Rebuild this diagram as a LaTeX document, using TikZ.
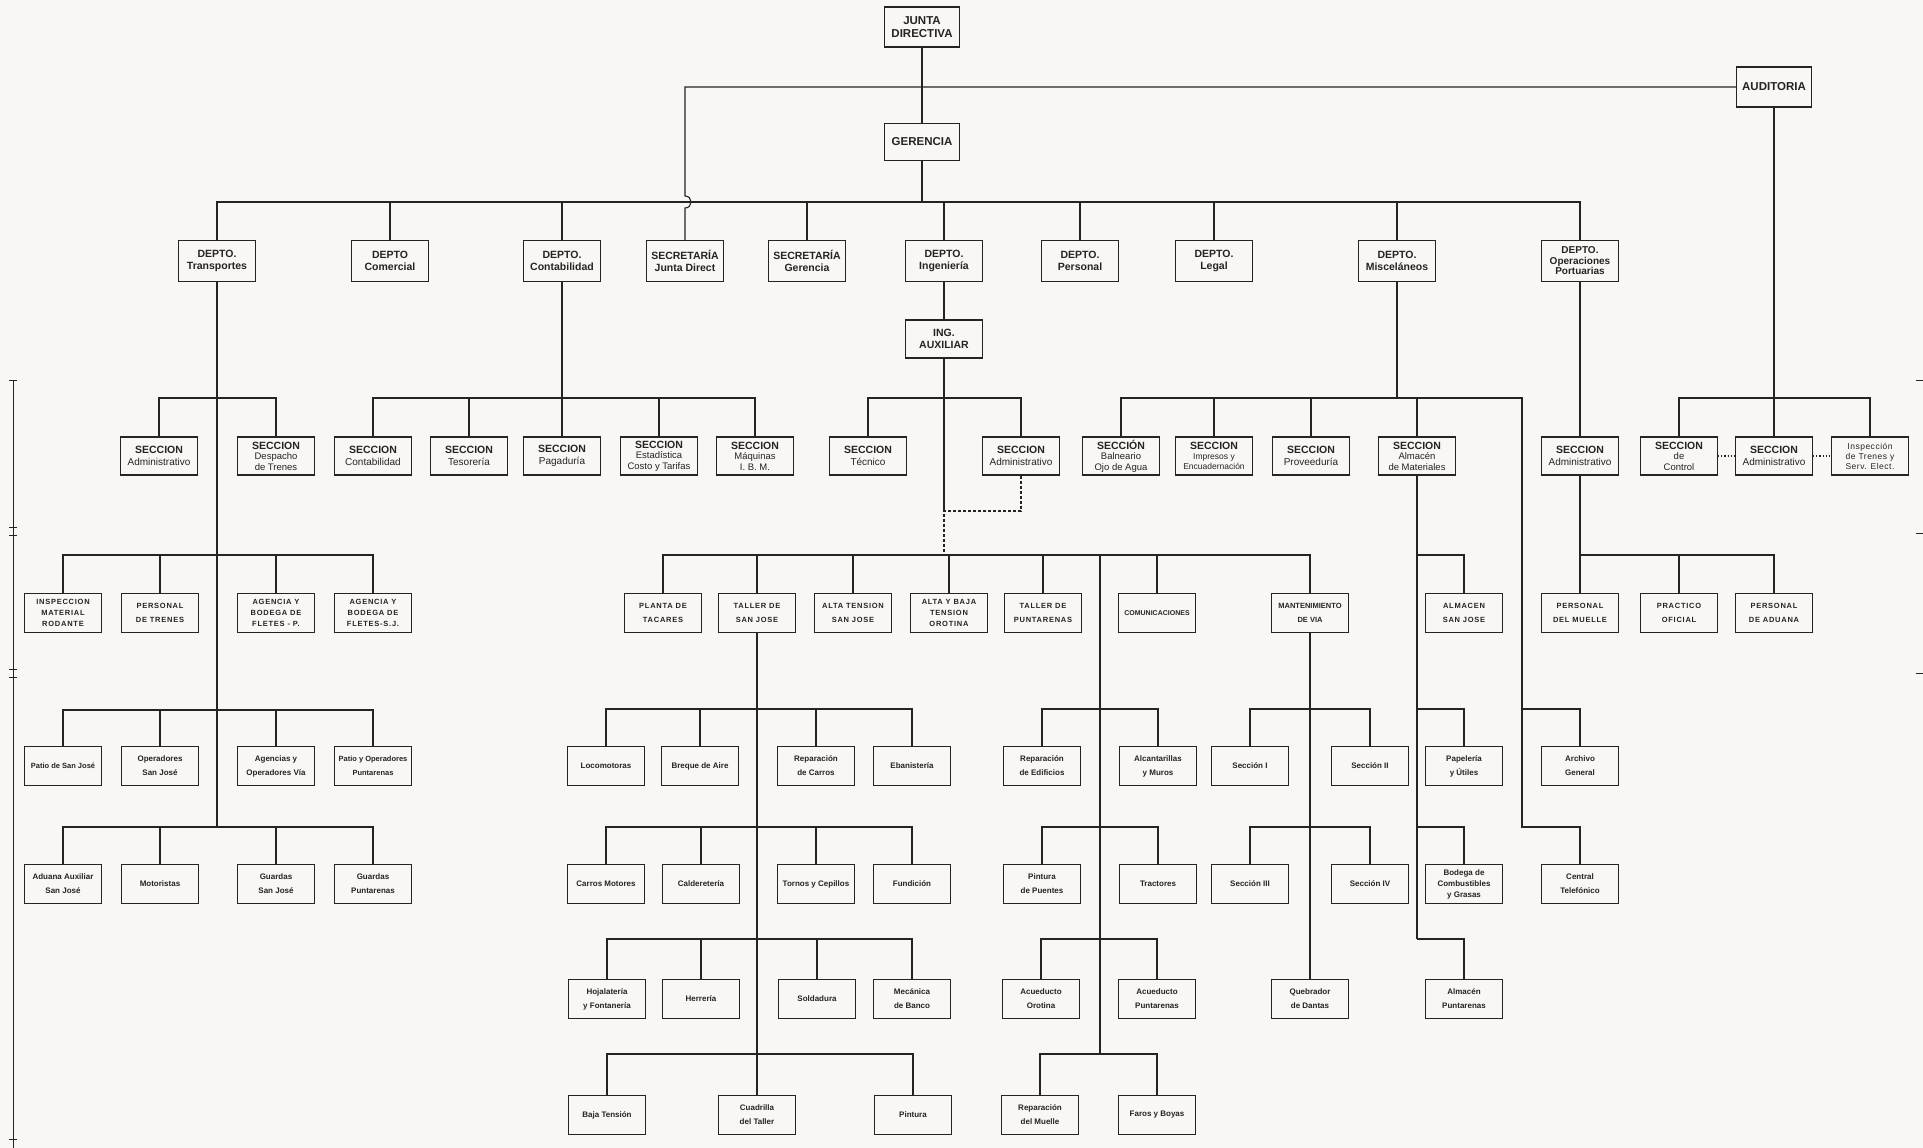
\documentclass[tikz,border=0pt]{standalone}
\usepackage{fontspec}
\setmainfont{Liberation Sans}
\usetikzlibrary{positioning, calc}
\definecolor{paper}{RGB}{249, 247, 243}
\definecolor{ink}{RGB}{38, 36, 34}
\newcommand{\hdr}[1]{{\bfseries\fontsize{10.5}{12}\selectfont #1}}

\tikzset{
  link/.style={draw=ink, line width=1.1pt},
  box/.style={draw=ink, line width=1.4pt, fill=paper, text=ink, minimum width=77pt,
    minimum height=39pt, inner sep=1pt, align=center},
  topbox/.style={box, minimum width=75pt, font=\bfseries\fontsize{11.5}{13}\selectfont},
  deptbox/.style={box, minimum height=41pt, font=\bfseries\fontsize{10.5}{12.5}\selectfont},
  secbox/.style={box, minimum height=38pt, font=\fontsize{10}{12.5}\selectfont},
  secthree/.style={secbox, font=\fontsize{9.5}{10.5}\selectfont},
  capbox/.style={box, font=\bfseries\fontsize{7.5}{14}\selectfont\addfontfeature{LetterSpace=10}},
  capthree/.style={box, font=\bfseries\fontsize{7.5}{11}\selectfont\addfontfeature{LetterSpace=10}},
  lowbox/.style={box, font=\bfseries\fontsize{8}{14}\selectfont},
  lowthree/.style={box, font=\bfseries\fontsize{8}{11}\selectfont},
}

\begin{document}
\begin{tikzpicture}[x=1pt, y=-1pt]
  \useasboundingbox (0,0) rectangle (1923,1148);
  \fill[paper] (0,0) rectangle (1923,1148);

  % edge marks of the sheet
  \draw[ink, line width=1pt] (13,380) -- (13,1148);
  \foreach \y in {380,527,535,669,677,1139} \draw[ink, line width=0.8pt] (9,\y) -- (17,\y);
  \foreach \y in {380,533,673} \draw[ink, line width=0.8pt] (1916,\y) -- (1923,\y);

  % top
  \node[topbox, minimum height=40pt] (junta) at (922,27) {JUNTA\\DIRECTIVA};
  \node[topbox, minimum height=37pt] (gerencia) at (922,142) {GERENCIA};
  \node[topbox, minimum height=40pt] (auditoria) at (1774,87) {AUDITORIA};

  % departments
  \node[deptbox] (dtrans) at (217,261) {DEPTO.\\Transportes};
  \node[deptbox] (dcom) at (390,261) {DEPTO\\Comercial};
  \node[deptbox] (dcont) at (562,261) {DEPTO.\\Contabilidad};
  \node[deptbox] (secjd) at (685,261) {SECRETARÍA\\Junta Direct};
  \node[deptbox] (secger) at (807,261) {SECRETARÍA\\Gerencia};
  \node[deptbox] (ding) at (944,261) {DEPTO.\\Ingeniería};
  \node[deptbox] (dpers) at (1080,261) {DEPTO.\\Personal};
  \node[deptbox] (dlegal) at (1214,261) {DEPTO.\\Legal};
  \node[deptbox] (dmisc) at (1397,261) {DEPTO.\\Misceláneos};
  \node[deptbox, font=\bfseries\fontsize{10}{10.5}\selectfont] (doper) at (1580,261) {DEPTO.\\Operaciones\\Portuarias};
  \node[deptbox, minimum height=38pt] (ingaux) at (944,339) {ING.\\AUXILIAR};

  % secciones
  \node[secbox] (tadm) at (159,456) {\hdr{SECCION}\\Administrativo};
  \node[secthree] (tdesp) at (276,456) {\hdr{SECCION}\\Despacho\\de Trenes};
  \node[secbox] (ccont) at (373,456) {\hdr{SECCION}\\Contabilidad};
  \node[secbox] (ctes) at (469,456) {\hdr{SECCION}\\Tesorería};
  \node[secbox] (cpag) at (562,456) {\hdr{SECCION}\\Pagaduría};
  \node[secthree] (cest) at (659,456) {\hdr{SECCION}\\Estadística\\Costo y Tarifas};
  \node[secthree] (cmaq) at (755,456) {\hdr{SECCION}\\Máquinas\\I. B. M.};
  \node[secbox] (itec) at (868,456) {\hdr{SECCION}\\Técnico};
  \node[secbox] (iadm) at (1021,456) {\hdr{SECCION}\\Administrativo};
  \node[secthree] (mbal) at (1121,456) {\hdr{SECCIÓN}\\Balneario\\Ojo de Agua};
  \node[secthree, font=\fontsize{8.5}{10}\selectfont] (mimp) at (1214,456) {\hdr{SECCION}\\Impresos y\\Encuadernación};
  \node[secbox] (mprov) at (1311,456) {\hdr{SECCION}\\Proveeduría};
  \node[secthree] (malm) at (1417,456) {\hdr{SECCION}\\Almacén\\de Materiales};
  \node[secbox] (oadm) at (1580,456) {\hdr{SECCION}\\Administrativo};
  \node[secthree] (actrl) at (1679,456) {\hdr{SECCION}\\de\\Control};
  \node[secbox] (aadm) at (1774,456) {\hdr{SECCION}\\Administrativo};
  \node[secthree, font=\fontsize{8.5}{10}\selectfont\addfontfeature{LetterSpace=6}] (ainsp) at (1870,456) {Inspección\\de Trenes y\\Serv. Elect.};

  % fourth row
  \node[capthree] (tins) at (63,613) {INSPECCION\\MATERIAL\\RODANTE};
  \node[capbox] (tper) at (160,613) {PERSONAL\\DE TRENES};
  \node[capthree] (tagp) at (276,613) {AGENCIA Y\\BODEGA DE\\FLETES - P.};
  \node[capthree] (tags) at (373,613) {AGENCIA Y\\BODEGA DE\\FLETES-S.J.};
  \node[capbox] (planta) at (663,613) {PLANTA DE\\TACARES};
  \node[capbox] (tsj) at (757,613) {TALLER DE\\SAN JOSE};
  \node[capbox] (atsj) at (853,613) {ALTA TENSION\\SAN JOSE};
  \node[capthree] (abto) at (949,613) {ALTA Y BAJA\\TENSION\\OROTINA};
  \node[capbox] (tpunt) at (1043,613) {TALLER DE\\PUNTARENAS};
  \node[capbox, font=\bfseries\fontsize{7}{14}\selectfont] (comun) at (1157,613) {COMUNICACIONES};
  \node[capbox, font=\bfseries\fontsize{7.5}{14}\selectfont] (mvia) at (1310,613) {MANTENIMIENTO\\DE VIA};
  \node[capbox] (almsj) at (1464,613) {ALMACEN\\SAN JOSE};
  \node[capbox] (pmuel) at (1580,613) {PERSONAL\\DEL MUELLE};
  \node[capbox] (pofic) at (1679,613) {PRACTICO\\OFICIAL};
  \node[capbox] (padu) at (1774,613) {PERSONAL\\DE ADUANA};

  % fifth row
  \node[lowbox, font=\bfseries\fontsize{7.5}{14}\selectfont] (tpatio) at (63,766) {Patio de San José};
  \node[lowbox] (toper) at (160,766) {Operadores\\San José};
  \node[lowbox] (tagen) at (276,766) {Agencias y\\Operadores Vía};
  \node[lowbox, font=\bfseries\fontsize{7.5}{14}\selectfont] (tpatp) at (373,766) {Patio y Operadores\\Puntarenas};
  \node[lowbox] (loco) at (606,766) {Locomotoras};
  \node[lowbox] (breque) at (700,766) {Breque de Aire};
  \node[lowbox] (repcar) at (816,766) {Reparación\\de Carros};
  \node[lowbox] (eban) at (912,766) {Ebanistería};
  \node[lowbox] (redif) at (1042,766) {Reparación\\de Edificios};
  \node[lowbox] (alcan) at (1158,766) {Alcantarillas\\y Muros};
  \node[lowbox] (sec1) at (1250,766) {Sección I};
  \node[lowbox] (sec2) at (1370,766) {Sección II};
  \node[lowbox] (papel) at (1464,766) {Papelería\\y Útiles};
  \node[lowbox] (archivo) at (1580,766) {Archivo\\General};

  % sixth row
  \node[lowbox] (tadu) at (63,884) {Aduana Auxiliar\\San José};
  \node[lowbox] (tmoto) at (160,884) {Motoristas};
  \node[lowbox] (tgsj) at (276,884) {Guardas\\San José};
  \node[lowbox] (tgpu) at (373,884) {Guardas\\Puntarenas};
  \node[lowbox] (cmot) at (606,884) {Carros Motores};
  \node[lowbox] (cald) at (701,884) {Calderetería};
  \node[lowbox] (torn) at (816,884) {Tornos y Cepillos};
  \node[lowbox] (fund) at (912,884) {Fundición};
  \node[lowbox] (pintp) at (1042,884) {Pintura\\de Puentes};
  \node[lowbox] (tract) at (1158,884) {Tractores};
  \node[lowbox] (sec3) at (1250,884) {Sección III};
  \node[lowbox] (sec4) at (1370,884) {Sección IV};
  \node[lowthree] (bodega) at (1464,884) {Bodega de\\Combustibles\\y Grasas};
  \node[lowbox] (centel) at (1580,884) {Central\\Telefónico};

  % seventh row
  \node[lowbox] (hoja) at (607,999) {Hojalatería\\y Fontanería};
  \node[lowbox] (herr) at (701,999) {Herrería};
  \node[lowbox] (sold) at (817,999) {Soldadura};
  \node[lowbox] (mecb) at (912,999) {Mecánica\\de Banco};
  \node[lowbox] (acor) at (1041,999) {Acueducto\\Orotina};
  \node[lowbox] (acpu) at (1157,999) {Acueducto\\Puntarenas};
  \node[lowbox] (queb) at (1310,999) {Quebrador\\de Dantas};
  \node[lowbox] (almpu) at (1464,999) {Almacén\\Puntarenas};

  % eighth row
  \node[lowbox] (bajat) at (607,1115) {Baja Tensión};
  \node[lowbox] (cuadr) at (757,1115) {Cuadrilla\\del Taller};
  \node[lowbox] (pint) at (913,1115) {Pintura};
  \node[lowbox] (repm) at (1040,1115) {Reparación\\del Muelle};
  \node[lowbox] (faros) at (1157,1115) {Faros y Boyas};

  % connectors, top
  \draw[link] (junta) -- (gerencia);
  \draw[link] (gerencia.south) -- (gerencia |- 0,202);
  \foreach \d in {dtrans,dcom,dcont,secger,ding,dpers,dlegal,dmisc,doper}
    \draw[link] (\d.north) |- (gerencia |- 0,202);
  \draw[link] (auditoria.west) -| (secjd |- 0,196) .. controls +(8,0) and +(8,0) .. (secjd |- 0,208) -- (secjd.north);

  % Transportes
  \draw[link] (dtrans.south) -- (dtrans |- 0,827);
  \foreach \c/\y in {tadm/398,tdesp/398,tins/555,tper/555,tagp/555,tags/555,
      tpatio/710,toper/710,tagen/710,tpatp/710,tadu/827,tmoto/827,tgsj/827,tgpu/827}
    \draw[link] (\c.north) |- (dtrans |- 0,\y);

  % Contabilidad
  \draw[link] (dcont.south) -- (dcont |- 0,398);
  \foreach \c in {ccont,ctes,cpag,cest,cmaq} \draw[link] (\c.north) |- (dcont |- 0,398);

  % Ingenieria
  \coordinate (ijoin) at (944,511);
  \coordinate (ibar) at (944,555);
  \coordinate (rtop) at (1100,555);
  \draw[link] (ding) -- (ingaux);
  \draw[link] (ingaux.south) -- (ijoin);
  \draw[link, dash pattern=on 3pt off 2pt] (iadm.south) |- (ijoin) -- (ibar);
  \foreach \c in {itec,iadm} \draw[link] (\c.north) |- (ingaux |- 0,398);
  \foreach \c in {planta,tsj,atsj,abto,tpunt,comun,mvia} \draw[link] (\c.north) |- (ibar);
  \draw[link] (rtop) -- (rtop |- 0,1054);
  \foreach \c/\y in {redif/709,alcan/709,pintp/827,tract/827,acor/939,acpu/939,repm/1054,faros/1054}
    \draw[link] (\c.north) |- (rtop |- 0,\y);

  % Taller de San Jose
  \draw[link] (tsj.south) -- (cuadr.north);
  \foreach \c/\y in {loco/709,breque/709,repcar/709,eban/709,cmot/827,cald/827,torn/827,fund/827,
      hoja/939,herr/939,sold/939,mecb/939,bajat/1054,pint/1054}
    \draw[link] (\c.north) |- (tsj |- 0,\y);

  % Mantenimiento de via
  \draw[link] (mvia.south) -- (queb.north);
  \foreach \c/\y in {sec1/709,sec2/709,sec3/827,sec4/827} \draw[link] (\c.north) |- (mvia |- 0,\y);

  % Miscelaneos
  \coordinate (mcol) at (1522,827);
  \draw[link] (dmisc.south) -- (dmisc |- 0,398);
  \foreach \c in {mbal,mimp,mprov,malm} \draw[link] (\c.north) |- (dmisc |- 0,398);
  \draw[link] (dmisc |- 0,398) -| (mcol) -| (centel.north);
  \draw[link] (archivo.north) |- (mcol |- 0,709);
  \draw[link] (malm.south) -- (malm |- 0,939);
  \foreach \c/\y in {almsj/555,papel/709,bodega/827,almpu/939} \draw[link] (\c.north) |- (malm |- 0,\y);

  % Operaciones Portuarias
  \draw[link] (doper) -- (oadm);
  \draw[link] (oadm.south) -- (oadm |- 0,555);
  \foreach \c in {pmuel,pofic,padu} \draw[link] (\c.north) |- (oadm |- 0,555);

  % Auditoria
  \draw[link] (auditoria) -- (aadm);
  \foreach \c in {actrl,ainsp} \draw[link] (\c.north) |- (auditoria |- 0,398);
  \draw[link, dotted] (actrl.east) -- (aadm.west) (aadm.east) -- (ainsp.west);
\end{tikzpicture}
\end{document}
